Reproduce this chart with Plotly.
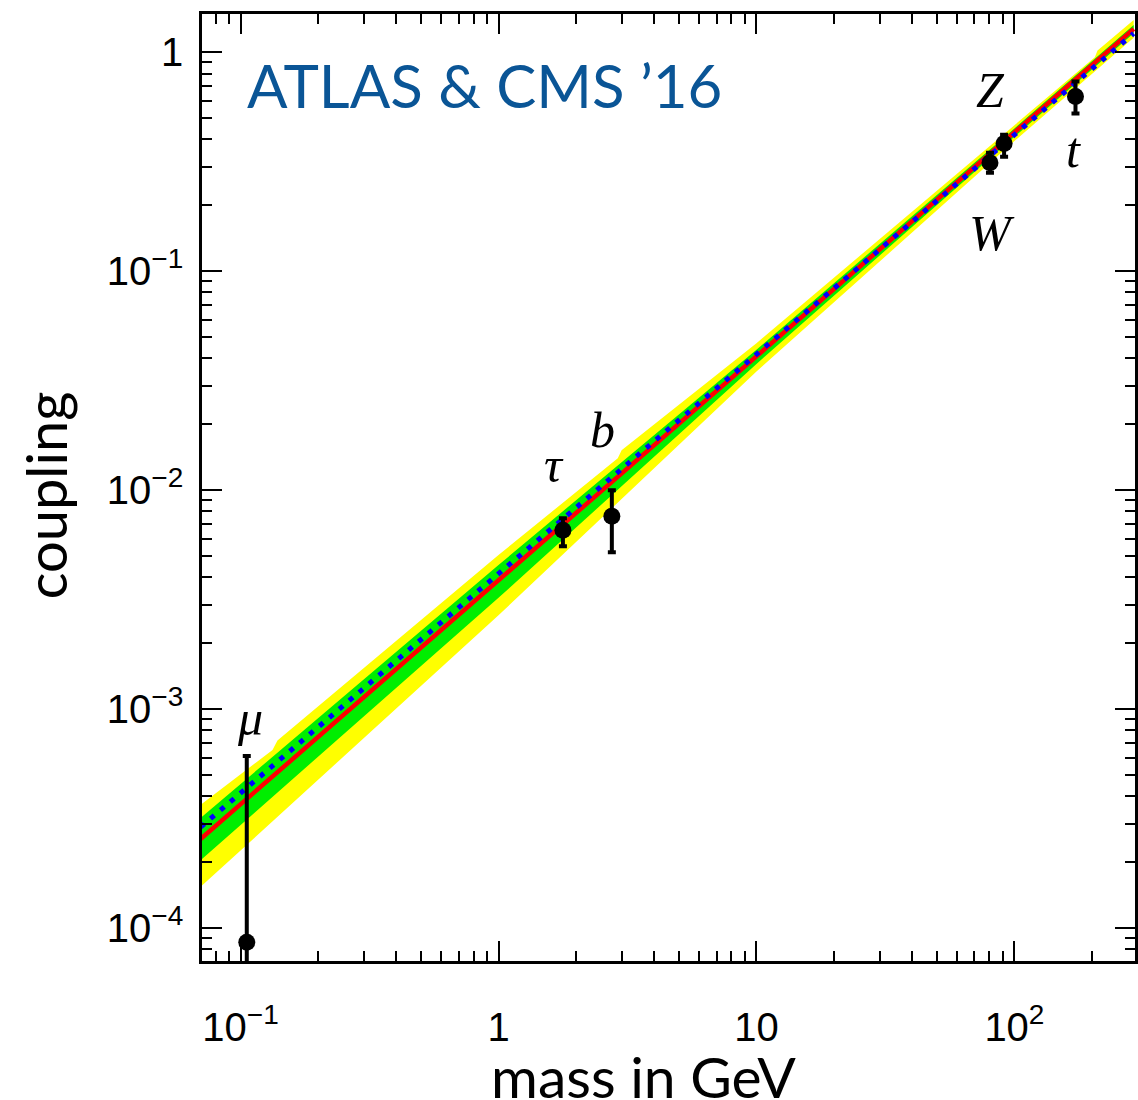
import numpy as np
import plotly.graph_objects as go

# ---- data ----
particles = ["μ", "τ", "b", "W", "Z", "t"]
mass = [0.1057, 1.777, 2.75, 80.4, 91.2, 172.5]
coupling = [8.6e-5, 6.55e-3, 7.6e-3, 0.313, 0.383, 0.628]
coupling_hi = [6.1e-4, 7.44e-3, 1.0e-2, 0.348, 0.42, 0.736]
coupling_lo = [1.0e-5, 5.54e-3, 5.2e-3, 0.282, 0.333, 0.525]

# SM expectation (red) and best fit (blue dotted)
sm_mass = [0.07, 290]
sm_coupling = [2.55e-4, 1.28]
fit_mass = [0.07, 290]
fit_coupling = [2.89e-4, 1.22]

# uncertainty bands (upper 2-sigma edge has small steps in the reference)
yellow_hi_mass = [0.07, 0.133, 0.139, 1, 2.9, 3.0, 10, 100, 205, 210, 290]
yellow_hi = [3.65e-4, 6.50e-4, 7.18e-4, 5.05e-3, 0.0140, 0.0152, 0.0469, 0.467, 0.950, 1.020, 1.403]
band_mass = [0.07, 1, 10, 100, 290]
green_hi = [3.18e-4, 4.55e-3, 0.0438, 0.449, 1.334]
green_lo = [2.04e-4, 3.22e-3, 0.0377, 0.411, 1.222]
yellow_lo = [1.54e-4, 2.68e-3, 0.0348, 0.393, 1.167]

# labels
label_text = ["μ", "τ", "b", "Z", "W", "t"]
label_mass = [0.1087, 1.644, 2.54, 80.7, 82.0, 169.0]
label_coupling = [9.1e-4, 1.30e-2, 1.88e-2, 0.673, 0.149, 0.357]

x_tickvals = [0.1, 1, 10, 100]
x_ticktext = ["10<sup>−1</sup>", "1", "10", "10<sup>2</sup>"]
y_tickvals = [1e-4, 1e-3, 1e-2, 1e-1, 1]
y_ticktext = ["10<sup>−4</sup>", "10<sup>−3</sup>", "10<sup>−2</sup>", "10<sup>−1</sup>", "1"]

x_minor = [k * 10.0 ** e for e in range(-2, 3) for k in range(2, 10)]
y_minor = [k * 10.0 ** e for e in range(-5, 1) for k in range(2, 10)]

fig = go.Figure()

def band(lo_mass, lo, hi_mass, hi, color):
    fig.add_trace(go.Scatter(
        x=list(hi_mass) + list(lo_mass)[::-1], y=list(hi) + list(lo)[::-1],
        fill="toself", fillcolor=color, mode="lines", line=dict(width=0),
        hoverinfo="skip", showlegend=False))

band(band_mass, yellow_lo, yellow_hi_mass, yellow_hi, "#ffff00")
band(band_mass, green_lo, band_mass, green_hi, "#00ee00")

fig.add_trace(go.Scatter(x=sm_mass, y=sm_coupling, mode="lines",
                         line=dict(color="#ff0000", width=4.5), showlegend=False))
fig.add_trace(go.Scatter(x=fit_mass, y=fit_coupling, mode="lines",
                         line=dict(color="#0000ff", width=5, dash="5px,8px"), showlegend=False))

err_plus = [h - c for h, c in zip(coupling_hi, coupling)]
err_minus = [c - l for c, l in zip(coupling, coupling_lo)]
fig.add_trace(go.Scatter(
    x=mass, y=coupling, mode="markers",
    marker=dict(color="black", size=17),
    error_y=dict(type="data", array=err_plus, arrayminus=err_minus,
                 color="black", thickness=4, width=4),
    showlegend=False, cliponaxis=True))

for t, m, c in zip(label_text, label_mass, label_coupling):
    fig.add_annotation(x=np.log10(m), y=np.log10(c), xref="x", yref="y", text=t,
                       showarrow=False, xanchor="center", yanchor="middle",
                       font=dict(family="Liberation Serif", size=50, color="black", style="italic"))

fig.add_annotation(x=0.046, y=0.925, xref="paper", yref="paper", xanchor="left", yanchor="middle",
                   text="ATLAS &amp; CMS ’16", showarrow=False,
                   font=dict(family="Lato", size=60, color="#0a5596"))
fig.add_annotation(x=-0.168, y=0.492, xref="paper", yref="paper", text="coupling",
                   textangle=-90, showarrow=False, xanchor="center", yanchor="middle",
                   font=dict(family="Lato", size=56, color="black"))
fig.add_annotation(x=0.4735, y=-0.121, xref="paper", yref="paper", text="mass in GeV",
                   showarrow=False, xanchor="center", yanchor="middle",
                   font=dict(family="Lato", size=57, color="black"))

axis_common = dict(showline=True, linecolor="black", linewidth=2.5, mirror="ticks",
                   ticks="inside", ticklen=20, tickwidth=2, tickcolor="black",
                   showgrid=False, zeroline=False,
                   tickfont=dict(family="Liberation Sans", size=40, color="black"))

fig.update_xaxes(type="log", range=[-1.1495, 2.4675], tickmode="array",
                 tickvals=x_tickvals, ticktext=x_ticktext, ticklabelstandoff=29,
                 minor=dict(ticks="inside", ticklen=10, tickwidth=2, tickcolor="black",
                            tickmode="array", tickvals=x_minor, showgrid=False),
                 **axis_common)
fig.update_yaxes(type="log", range=[-4.151, 0.175], tickmode="array",
                 tickvals=y_tickvals, ticktext=y_ticktext, ticklabelstandoff=8,
                 minor=dict(ticks="inside", ticklen=10, tickwidth=2, tickcolor="black",
                            tickmode="array", tickvals=y_minor, showgrid=False),
                 **axis_common)

fig.update_layout(width=1138, height=1100, margin=dict(l=202, r=0, t=14, b=139),
                  paper_bgcolor="white", plot_bgcolor="white")

fig.write_html("out.html")
